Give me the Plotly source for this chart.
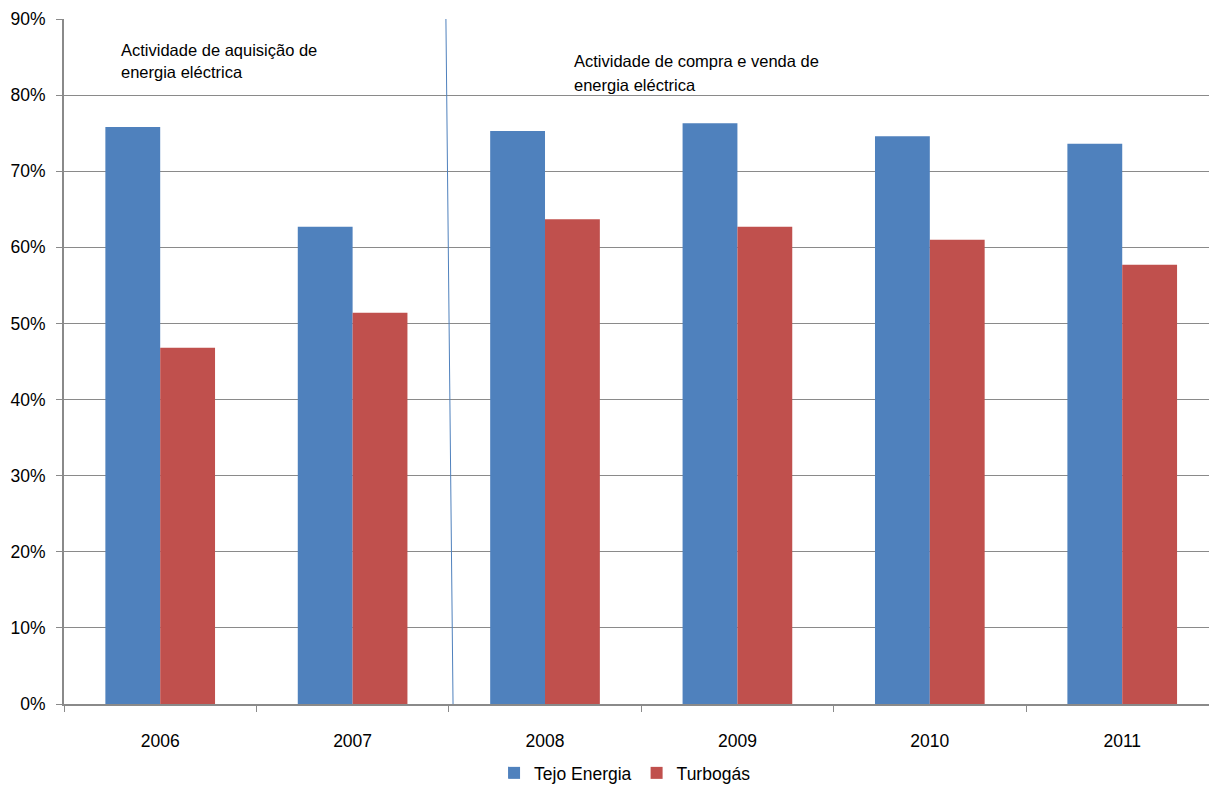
import plotly.graph_objects as go

years = ["2006", "2007", "2008", "2009", "2010", "2011"]
tejo_energia = [75.8, 62.7, 75.3, 76.3, 74.6, 73.6]
turbogas = [46.8, 51.4, 63.7, 62.7, 61.0, 57.7]
y_ticks = [0, 10, 20, 30, 40, 50, 60, 70, 80, 90]

FONT = "Liberation Sans, Arial, sans-serif"
GRID = "#8a8a8a"

fig = go.Figure()
fig.add_trace(go.Bar(x=years, y=tejo_energia, name="Tejo Energia",
                     marker=dict(color="#4F81BD", line=dict(width=0))))
fig.add_trace(go.Bar(x=years, y=turbogas, name="Turbogás",
                     marker=dict(color="#C0504D", line=dict(width=0))))

# divider between the two activity periods
fig.add_shape(type="line", xref="x", yref="y",
              x0=1.485, y0=90, x1=1.522, y1=0,
              line=dict(color="#4F81BD", width=1))

# period labels, one annotation per line for wider line spacing
period_labels = [
    (0.048, 0.955, "Actividade de aquisição de"),
    (0.048, 0.922, "energia eléctrica"),
    (0.4435, 0.938, "Actividade de compra e venda de"),
    (0.4435, 0.904, "energia eléctrica"),
]
for px, py, txt in period_labels:
    fig.add_annotation(x=px, y=py, xref="paper", yref="paper",
                       xanchor="left", yanchor="middle", align="left", showarrow=False,
                       text=txt, font=dict(family=FONT, size=16.5, color="#000000"))

fig.update_layout(
    width=1209, height=791,
    margin=dict(l=64, r=0, t=19, b=87),
    paper_bgcolor="white", plot_bgcolor="white",
    barmode="group", bargap=0.43, bargroupgap=0,
    font=dict(family=FONT, size=17.5, color="#000000"),
    showlegend=True,
    legend=dict(orientation="h", x=0.49, xanchor="center", y=-0.127, yanchor="bottom",
                font=dict(family=FONT, size=17.5), itemwidth=30, traceorder="normal"),
    xaxis=dict(range=[-0.5, 5.451], showline=True, linecolor=GRID, linewidth=2,
               ticks="outside", tickson="boundaries", ticklen=6, tickcolor=GRID,
               ticklabelstandoff=20,
               tickfont=dict(family=FONT, size=17.5), showgrid=False, automargin=False),
    yaxis=dict(range=[0, 90], tickvals=y_ticks, ticktext=[f"{v}%" for v in y_ticks],
               showline=True, linecolor=GRID, linewidth=2, ticks="outside", ticklen=6,
               tickcolor=GRID, showgrid=True, gridcolor=GRID, gridwidth=1,
               ticklabelstandoff=7,
               zeroline=False, tickfont=dict(family=FONT, size=17.5), automargin=False),
)

fig.write_html("out.html")
